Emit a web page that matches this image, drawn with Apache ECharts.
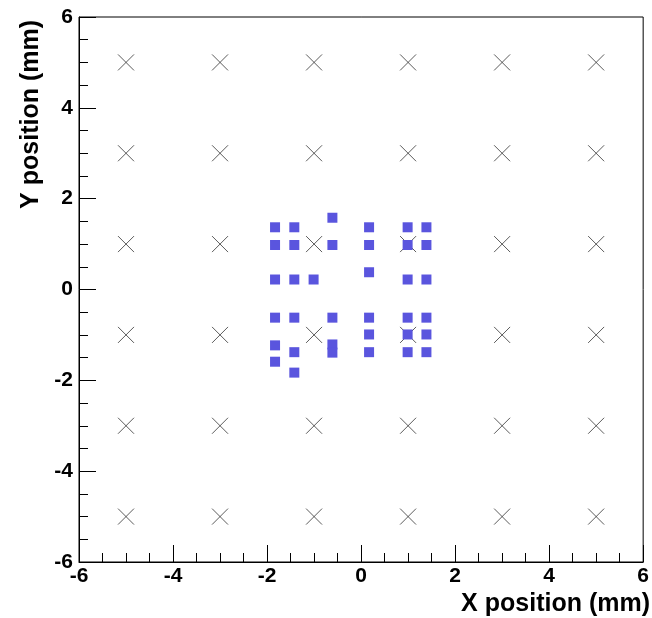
<!DOCTYPE html>
<html>
<head>
<meta charset="utf-8">
<script src="https://cdn.jsdelivr.net/npm/echarts@6/dist/echarts.min.js"></script>
<style>
  html, body { margin: 0; padding: 0; background: #fff; }
  #chart { width: 652px; height: 618px; }
</style>
</head>
<body>
<div id="chart"></div>
<script>
// grid of reference positions (crosses)
const gridX = [-5, -3, -1, 1, 3, 5];
const gridY = [-5, -3, -1, 1, 3, 5];

// measured positions (blue squares)
const hitX = [
  -1.83, -1.42, -0.61, 0.17, 0.99, 1.39,
  -1.83, -1.42, -0.61, 0.17, 0.99, 1.39,
  -1.83, -1.42, -1.01, 0.17, 0.99, 1.39,
  -1.83, -1.42, -0.61, 0.17, 0.99, 1.39,
  0.17, 0.99, 1.39,
  -0.61, -0.61,
  -1.42, 0.17, 0.99, 1.39,
  -1.83, -1.83, -1.42
];
const hitY = [
  1.37, 1.37, 1.58, 1.37, 1.37, 1.37,
  0.98, 0.98, 0.98, 0.98, 0.98, 0.98,
  0.22, 0.22, 0.22, 0.38, 0.22, 0.22,
  -0.62, -0.62, -0.62, -0.62, -0.62, -0.62,
  -0.99, -0.99, -0.99,
  -1.21, -1.39,
  -1.38, -1.38, -1.38, -1.38,
  -1.23, -1.59, -1.83
];

const axisTicks = [-6, -4, -2, 0, 2, 4, 6];

const crossData = [];
gridY.forEach(y => gridX.forEach(x => crossData.push([x, y])));
const hitData = hitX.map((x, i) => [x, hitY[i]]);

const font = 'Liberation Sans, Arial, sans-serif';

function axisCommon(margin) {
  return {
    type: 'value',
    min: axisTicks[0],
    max: axisTicks[axisTicks.length - 1],
    interval: 2,
    axisLine: { show: true, onZero: false, lineStyle: { color: '#000', width: 1 } },
    axisTick: { show: true, inside: true, length: 17, lineStyle: { color: '#000', width: 1 } },
    minorTick: { show: true, splitNumber: 4, length: 9, lineStyle: { color: '#000', width: 1 } },
    splitLine: { show: false },
    axisLabel: { color: '#000', fontFamily: font, fontWeight: 'bold', fontSize: 21, margin: margin }
  };
}

const chart = echarts.init(document.getElementById('chart'));
chart.setOption({
  backgroundColor: '#fff',
  animation: false,
  grid: {
    left: 79, right: 8, top: 17, bottom: 56,
    show: true, borderColor: '#000', borderWidth: 1, backgroundColor: 'transparent'
  },
  xAxis: axisCommon(4),
  yAxis: axisCommon(6),
  graphic: [
    {
      type: 'text', right: 2, top: 592,
      style: { text: 'X position (mm)', font: 'bold 25px ' + font, fill: '#000' }
    },
    {
      type: 'text', x: 19, y: 20, rotation: Math.PI / 2,
      style: { text: 'Y position (mm)', font: 'bold 25px ' + font, fill: '#000', align: 'right', verticalAlign: 'top' }
    }
  ],
  series: [
    {
      type: 'scatter',
      data: crossData,
      symbol: 'path://M0,0L10,10M10,0L0,10',
      symbolSize: 16,
      itemStyle: { color: 'none', borderColor: '#333', borderWidth: 1 },
      z: 2
    },
    {
      type: 'scatter',
      data: hitData,
      symbol: 'rect',
      symbolSize: 10,
      itemStyle: { color: '#5a55de', opacity: 1 },
      z: 3
    }
  ]
});
</script>
</body>
</html>
